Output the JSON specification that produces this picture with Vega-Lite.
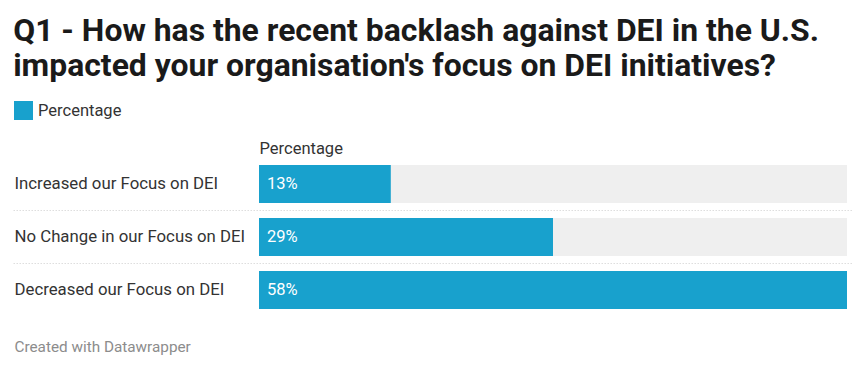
{
  "$schema": "https://vega.github.io/schema/vega-lite/v6.json",
  "autosize": "none",
  "width": 588,
  "height": 159,
  "padding": {"left": 259, "top": 157.5, "right": 21, "bottom": 54.5},
  "background": "#ffffff",
  "config": {
    "font": "Roboto",
    "view": {"stroke": null}
  },
  "title": {
    "text": ["Q1 - How has the recent backlash against DEI in the U.S.", "impacted your organisation's focus on DEI initiatives?"],
    "anchor": "start",
    "frame": "bounds",
    "fontSize": 31.9,
    "fontWeight": "bold",
    "font": "Roboto",
    "color": "#1a1a1a",
    "lineHeight": 35,
    "offset": 18
  },
  "data": {
    "values": [
      {"answer": "Increased our Focus on DEI", "value": 13, "label": "13%"},
      {"answer": "No Change in our Focus on DEI", "value": 29, "label": "29%"},
      {"answer": "Decreased our Focus on DEI", "value": 58, "label": "58%"}
    ]
  },
  "encoding": {
    "y": {
      "field": "answer",
      "type": "nominal",
      "sort": null,
      "scale": {"paddingInner": 0.283, "paddingOuter": 0.1415},
      "axis": {
        "title": null,
        "ticks": false,
        "domain": false,
        "labelAlign": "left",
        "labelPadding": 245,
        "labelFontSize": 16.8,
        "labelColor": "#333333",
        "labelFont": "Roboto",
        "labelLimit": 300
      }
    }
  },
  "layer": [
    {
      "mark": {"type": "bar", "color": "#efefef"},
      "encoding": {
        "x": {
          "datum": 58,
          "type": "quantitative",
          "scale": {"domain": [0, 58], "nice": false, "zero": true},
          "axis": {
            "orient": "top",
            "title": "Percentage",
            "titleAnchor": "start",
            "titleAlign": "left",
            "titleX": 0,
            "titleY": -4.5,
            "titleBaseline": "alphabetic",
            "titleFontSize": 16.5,
            "titleFontWeight": "normal",
            "titleColor": "#333333",
            "titleFont": "Roboto",
            "labels": false,
            "ticks": false,
            "domain": false,
            "grid": false
          }
        }
      }
    },
    {
      "mark": {"type": "bar"},
      "encoding": {
        "x": {"field": "value", "type": "quantitative", "axis": null},
        "color": {
          "datum": "Percentage",
          "type": "nominal",
          "scale": {"range": ["#18a1cd"]},
          "legend": {
            "title": null,
            "orient": "none",
            "legendX": -245,
            "legendY": -56.5,
            "symbolType": "square",
            "symbolSize": 361,
            "symbolStrokeWidth": 0,
            "symbolOpacity": 1,
            "labelFontSize": 16.5,
            "labelColor": "#333333",
            "labelFont": "Roboto",
            "labelOffset": 5,
            "padding": 0
          }
        }
      }
    },
    {
      "mark": {"type": "text", "align": "left", "baseline": "middle", "dx": 8, "fontSize": 16.5, "color": "#ffffff", "font": "Roboto"},
      "encoding": {
        "x": {"datum": 0, "type": "quantitative", "axis": null},
        "text": {"field": "label"}
      }
    },
    {
      "transform": [{"filter": "datum.value != 13"}],
      "mark": {"type": "rule", "color": "#cccccc", "strokeDash": [1, 2], "strokeWidth": 1, "yOffset": -7.5, "clip": false},
      "encoding": {
        "x": {"datum": -24.2, "type": "quantitative", "axis": null},
        "x2": {"datum": 58.6},
        "y": {"field": "answer", "type": "nominal", "sort": null, "bandPosition": 0}
      }
    },
    {
      "mark": {"type": "rule", "opacity": 0},
      "encoding": {
        "x": {
          "datum": 0,
          "type": "quantitative",
          "axis": {
            "orient": "bottom",
            "title": "Created with Datawrapper",
            "titleX": -245,
            "titleY": 29.5,
            "titleAlign": "left",
            "titleBaseline": "middle",
            "titleFontSize": 15.3,
            "titleFontWeight": "normal",
            "titleColor": "#8c8c8c",
            "titleFont": "Roboto",
            "labels": false,
            "ticks": false,
            "domain": false,
            "grid": false
          }
        }
      }
    }
  ],
  "resolve": {"axis": {"x": "independent"}}
}
